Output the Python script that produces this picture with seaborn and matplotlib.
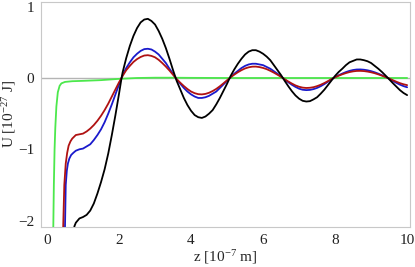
import matplotlib
matplotlib.use("Agg")
import matplotlib.pyplot as plt
import seaborn as sns
from matplotlib.ticker import MultipleLocator

# z in units of 1e-7 m, U in units of 1e-27 J
z_tail = [2.07,
          2.1, 2.2, 2.3, 2.4, 2.5, 2.6, 2.7, 2.8,
          2.9, 3.0, 3.1, 3.2, 3.3, 3.4, 3.5,
          3.6, 3.7, 3.8, 3.9, 4.0, 4.1, 4.2,
          4.3, 4.4, 4.5, 4.6, 4.7, 4.8, 4.9, 5.0,
          5.1, 5.2, 5.3, 5.4, 5.5, 5.6, 5.7,
          5.8, 5.9, 6.0, 6.1, 6.2, 6.3, 6.4, 6.5,
          6.6, 6.7, 6.8, 6.9, 7.0, 7.1, 7.2,
          7.3, 7.4, 7.5, 7.6, 7.7, 7.8, 7.9,
          8.0, 8.1, 8.2, 8.3, 8.4, 8.5, 8.6, 8.7,
          8.8, 8.9, 9.0, 9.1, 9.2, 9.3, 9.4,
          9.5, 9.6, 9.7, 9.8, 9.9, 10.0]

black_z = [0.73, 0.76, 0.8, 0.9, 1.0, 1.1, 1.2, 1.3, 1.4, 1.5, 1.6, 1.7, 1.8, 1.9, 2.0]
black_u = [-2.4, -2.08, -2.03, -1.97, -1.95, -1.92, -1.86, -1.76, -1.62, -1.46,
           -1.28, -1.06, -0.80, -0.52, -0.22]
black_tail = [0.0,
              0.08, 0.28, 0.45, 0.59, 0.70, 0.78, 0.82, 0.83,
              0.80, 0.75, 0.66, 0.55, 0.42, 0.27, 0.11,
              -0.04, -0.16, -0.28, -0.38, -0.46, -0.52, -0.55,
              -0.56, -0.54, -0.50, -0.45, -0.37, -0.28, -0.18, -0.08,
              0.03, 0.12, 0.20, 0.27, 0.33, 0.37, 0.39,
              0.39, 0.37, 0.34, 0.30, 0.25, 0.18, 0.11, 0.04,
              -0.04, -0.115, -0.185, -0.245, -0.29, -0.32, -0.33,
              -0.325, -0.30, -0.27, -0.22, -0.165, -0.10, -0.035,
              0.03, 0.085, 0.13, 0.18, 0.22, 0.24, 0.26, 0.26,
              0.25, 0.235, 0.21, 0.17, 0.13, 0.085, 0.035,
              -0.017, -0.07, -0.12, -0.17, -0.21, -0.24]

blue_z = [0.48, 0.5, 0.52, 0.55, 0.58, 0.62, 0.67, 0.73, 0.8, 0.9, 1.0, 1.1, 1.2,
          1.3, 1.4, 1.5, 1.6, 1.7, 1.8, 1.9, 2.0]
blue_u = [-2.5, -2.07, -1.5, -1.3, -1.2, -1.13, -1.08, -1.05, -1.02, -1.0, -0.99,
          -0.96, -0.93, -0.87, -0.80, -0.72, -0.62, -0.50, -0.37, -0.23, -0.09]
blue_tail = [0.0,
             0.04, 0.14, 0.22, 0.29, 0.34, 0.38, 0.405, 0.41,
             0.40, 0.37, 0.33, 0.27, 0.21, 0.13, 0.06,
             -0.02, -0.08, -0.14, -0.19, -0.23, -0.26, -0.28,
             -0.28, -0.27, -0.25, -0.22, -0.19, -0.14, -0.09, -0.04,
             0.01, 0.06, 0.10, 0.14, 0.17, 0.19, 0.20,
             0.20, 0.19, 0.18, 0.155, 0.13, 0.095, 0.06, 0.02,
             -0.02, -0.06, -0.095, -0.125, -0.15, -0.165, -0.17,
             -0.167, -0.156, -0.139, -0.115, -0.086, -0.053, -0.018,
             0.013, 0.039, 0.062, 0.083, 0.10, 0.112, 0.119, 0.12,
             0.116, 0.108, 0.096, 0.08, 0.061, 0.039, 0.016,
             -0.009, -0.04, -0.068, -0.093, -0.114, -0.13]

red_z = [0.43, 0.45, 0.48, 0.52, 0.56, 0.6, 0.65, 0.7, 0.8, 0.9, 1.0, 1.1, 1.2,
         1.3, 1.4, 1.5, 1.6, 1.7, 1.8, 1.9, 2.0]
red_u = [-2.5, -2.07, -1.5, -1.2, -1.05, -0.95, -0.89, -0.85, -0.80, -0.79, -0.78,
         -0.75, -0.71, -0.66, -0.60, -0.53, -0.45, -0.36, -0.26, -0.16, -0.06]
red_tail = [0.0,
            0.03, 0.11, 0.17, 0.225, 0.265, 0.295, 0.315, 0.32,
            0.31, 0.29, 0.255, 0.21, 0.16, 0.105, 0.045,
            -0.015, -0.066, -0.113, -0.155, -0.19, -0.213, -0.227,
            -0.23, -0.223, -0.207, -0.183, -0.153, -0.116, -0.075, -0.032,
            0.011, 0.047, 0.081, 0.11, 0.134, 0.15, 0.159,
            0.16, 0.153, 0.141, 0.124, 0.101, 0.075, 0.046, 0.016,
            -0.017, -0.049, -0.078, -0.104, -0.123, -0.135, -0.14,
            -0.137, -0.129, -0.114, -0.095, -0.071, -0.044, -0.015,
            0.011, 0.032, 0.052, 0.069, 0.083, 0.093, 0.099, 0.10,
            0.097, 0.09, 0.08, 0.067, 0.051, 0.033, 0.014,
            -0.007, -0.03, -0.052, -0.072, -0.088, -0.10]

green_z = [0.16, 0.175, 0.19, 0.21, 0.23, 0.26, 0.3, 0.35, 0.4, 0.5, 0.7, 1.0, 1.5,
           2.0, 2.5, 3.0, 3.5, 4.0, 5.0, 6.0, 7.0, 8.0, 9.0, 10.0]
green_u = [-2.5, -2.07, -1.5, -1.0, -0.7, -0.4, -0.2, -0.11, -0.075, -0.055, -0.045,
           -0.04, -0.03, -0.012, 0.0, 0.004, 0.004, 0.002, 0.0, 0.0, 0.0, 0.0, 0.0, 0.0]

sns.set_style("white")
plt.rcParams['font.family'] = ['Liberation Serif', 'DejaVu Serif']
plt.rcParams['mathtext.fontset'] = 'custom'
plt.rcParams['mathtext.rm'] = 'Liberation Serif'
plt.rcParams['mathtext.it'] = 'Liberation Serif:italic'

fig = plt.figure(figsize=(4.15, 2.67), dpi=100)
ax = fig.add_axes([41 / 415, 1 - 227 / 267, 369 / 415, 225 / 267])

ax.axhline(0, color='#b4b4b4', lw=1.0, zorder=1)

curves = [
    (green_z, green_u, '#4ce84c'),
    (blue_z + z_tail, blue_u + blue_tail, '#1a1acc'),
    (red_z + z_tail, red_u + red_tail, '#b01212'),
    (black_z + z_tail, black_u + black_tail, 'black'),
]
for zz, uu, col in curves:
    sns.lineplot(x=zz, y=uu, color=col, lw=1.3, ax=ax,
                 sort=False, estimator=None, zorder=3)

ax.set_xlim(-0.167, 10.08)
ax.set_ylim(-2.09, 1.066)
ax.xaxis.set_major_locator(MultipleLocator(2))
ax.xaxis.set_minor_locator(MultipleLocator(1))
ax.yaxis.set_major_locator(MultipleLocator(1))
ax.yaxis.set_minor_locator(MultipleLocator(0.5))
ax.tick_params(which='both', direction='in', color='#a0a0a0', labelsize=11,
               labelcolor='#222222')
ax.tick_params(which='major', length=4, width=0.6)
ax.tick_params(which='minor', length=2.5, width=0.5)
ax.tick_params(axis='x', pad=5)
ax.tick_params(axis='y', pad=5)
for s in ax.spines.values():
    s.set_color('#c8c8c8')
    s.set_linewidth(0.8)

ax.set_xlabel(r'z [10$^{-7}$ m]', fontsize=11, labelpad=1)
ax.set_ylabel(r'U [10$^{-27}$ J]', fontsize=11, labelpad=0)

fig.savefig('out.png', dpi=100)
